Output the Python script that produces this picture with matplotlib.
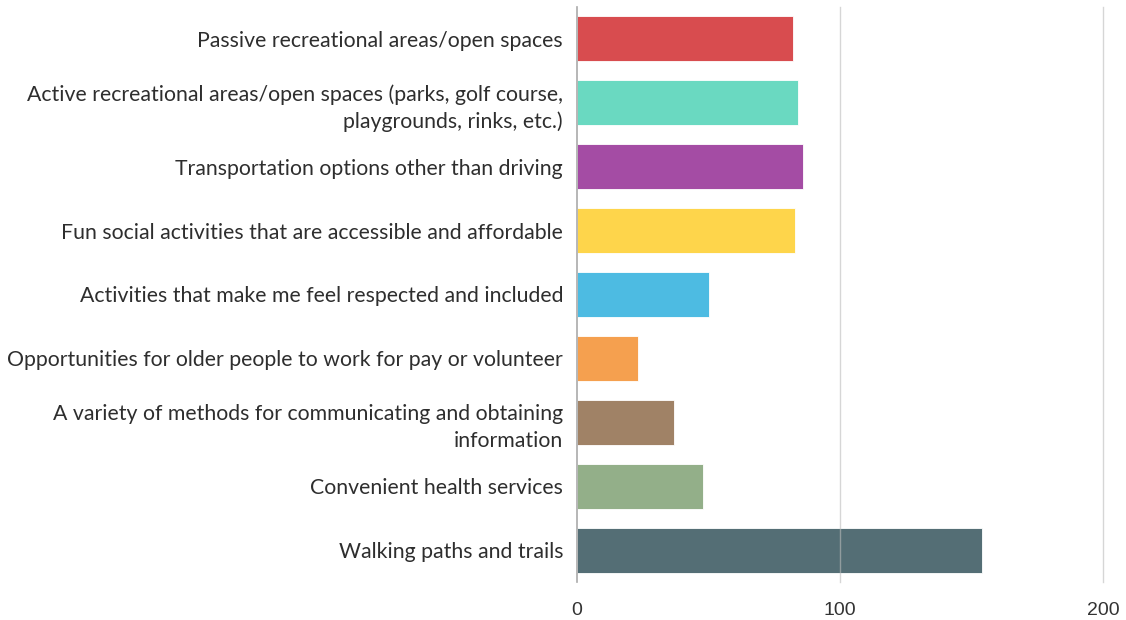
import matplotlib.pyplot as plt

categories = [
    "Passive recreational areas/open spaces",
    "Active recreational areas/open spaces (parks, golf course,\nplaygrounds, rinks, etc.)",
    "Transportation options other than driving",
    "Fun social activities that are accessible and affordable",
    "Activities that make me feel respected and included",
    "Opportunities for older people to work for pay or volunteer",
    "A variety of methods for communicating and obtaining\ninformation",
    "Convenient health services",
    "Walking paths and trails",
]
values = [82, 84, 86, 83, 50, 23, 37, 48, 154]
colors = ["#d84c4f", "#6ad9c1", "#a44ca4", "#fed54b", "#4dbbe2",
          "#f5a04f", "#a08266", "#93af89", "#546e75"]
xticks = [0, 100, 200]

fig = plt.figure(figsize=(11.26, 6.2), dpi=100)
ax = fig.add_axes([0.5124, 0.0605, 0.98 - 0.5124, 0.929])

y = list(range(len(categories)))
ax.barh(y, values, height=0.69, color=colors, edgecolor="white",
        linewidth=0.6, zorder=2)
ax.set_ylim(len(categories) - 0.5, -0.5)
ax.set_xlim(0, 200)

ax.set_yticks(y)
ax.set_yticklabels(categories, fontsize=15.3, family="Lato", color="#2e2e2e",
                   linespacing=1.4)
ax.set_xticks(xticks)
ax.set_xticklabels([str(t) for t in xticks], fontsize=14,
                   family="Liberation Sans", color="#333333")
ax.tick_params(axis="y", length=0, pad=10)
ax.tick_params(axis="x", length=0, pad=14)

for t in xticks[1:]:
    ax.axvline(t, color="#bbbbbb", linewidth=1, alpha=0.6, zorder=3,
               clip_on=False)
for s in ["top", "right", "bottom"]:
    ax.spines[s].set_visible(False)
ax.spines["left"].set_color("#aaaaaa")
ax.spines["left"].set_linewidth(1.2)

fig.savefig("out.png", dpi=100)
